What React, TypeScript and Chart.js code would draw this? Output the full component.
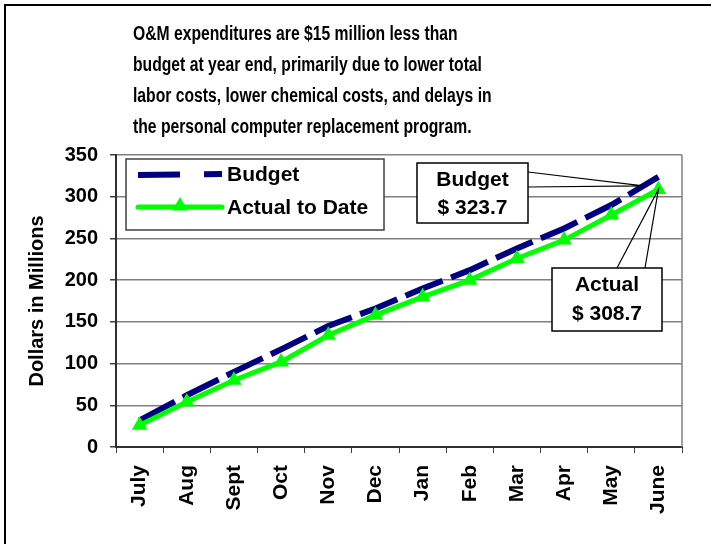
import React, { useEffect, useRef } from "react";
import { Chart, registerables } from "chart.js";

Chart.register(...registerables);

const months = ["July", "Aug", "Sept", "Oct", "Nov", "Dec", "Jan", "Feb", "Mar", "Apr", "May", "June"];
const budget = [32, 62, 90, 117, 145, 166, 190, 212, 238, 262, 290, 323.7];
const actual = [26, 54, 80, 102, 134, 158, 180, 200, 226, 248, 278, 308.7];
const yMin = 0;
const yMax = 350;
const yStep = 50;
const titleLines = [
  "O&M expenditures are $15 million less than",
  "budget at year end, primarily due to lower total",
  "labor costs, lower chemical costs, and delays in",
  "the personal computer replacement program.",
];
const yAxisTitle = "Dollars in Millions";
const legendLabels = ["Budget", "Actual to Date"];
const budgetCallout = ["Budget", "$ 323.7"];
const actualCallout = ["Actual", "$ 308.7"];

const FONT = "'Liberation Sans', Arial, Helvetica, sans-serif";
const NAVY = "#000080";
const GREEN = "#00FF00";

function drawTriangle(ctx: CanvasRenderingContext2D, x: number, y: number, r: number) {
  ctx.beginPath();
  ctx.moveTo(x, y - r);
  ctx.lineTo(x + r * 0.866, y + r * 0.5);
  ctx.lineTo(x - r * 0.866, y + r * 0.5);
  ctx.closePath();
  ctx.fillStyle = GREEN;
  ctx.fill();
}

const decor = {
  id: "decor",
  beforeDraw(chart: any) {
    const { ctx, width, height } = chart;
    ctx.save();
    ctx.fillStyle = "#ffffff";
    ctx.fillRect(0, 0, width, height);
    ctx.restore();
  },
  beforeDatasetsDraw(chart: any) {
    const { ctx, chartArea } = chart;
    ctx.save();
    ctx.strokeStyle = "#808080";
    ctx.lineWidth = 1.5;
    ctx.beginPath();
    ctx.moveTo(chartArea.right, chartArea.top);
    ctx.lineTo(chartArea.right, chartArea.bottom);
    ctx.stroke();
    ctx.restore();
  },
  afterDraw(chart: any) {
    const { ctx, chartArea } = chart;
    const ca = chartArea;
    ctx.save();
    // outer frame
    ctx.strokeStyle = "#000";
    ctx.lineWidth = 2;
    ctx.strokeRect(5, 5, 760, 600);

    // title
    ctx.fillStyle = "#000";
    ctx.font = `bold 20px ${FONT}`;
    ctx.textBaseline = "middle";
    ctx.textAlign = "left";
    titleLines.forEach((line, i) => {
      ctx.save();
      ctx.translate(133, 34 + i * 31);
      ctx.scale(0.785, 1);
      ctx.fillText(line, 0, 0);
      ctx.restore();
    });

    // legend
    const lx = ca.left + 10;
    const ly = ca.top + 4;
    const lw = 258;
    const lh = 71;
    ctx.fillStyle = "#fff";
    ctx.fillRect(lx, ly, lw, lh);
    ctx.strokeStyle = "#404040";
    ctx.lineWidth = 1.5;
    ctx.strokeRect(lx, ly, lw, lh);
    // budget sample
    ctx.strokeStyle = NAVY;
    ctx.lineWidth = 6;
    ctx.setLineDash([42, 24]);
    ctx.beginPath();
    ctx.moveTo(lx + 12, ly + 16);
    ctx.lineTo(lx + 96, ly + 15);
    ctx.stroke();
    ctx.setLineDash([]);
    // actual sample
    ctx.strokeStyle = GREEN;
    ctx.lineWidth = 5;
    ctx.lineCap = "round";
    ctx.beginPath();
    ctx.moveTo(lx + 12, ly + 48);
    ctx.lineTo(lx + 96, ly + 48);
    ctx.stroke();
    ctx.lineCap = "butt";
    drawTriangle(ctx, lx + 54, ly + 47, 9);
    ctx.fillStyle = "#000";
    ctx.font = `bold 21px ${FONT}`;
    ctx.textAlign = "left";
    ctx.fillText(legendLabels[0], lx + 101, ly + 16);
    ctx.fillText(legendLabels[1], lx + 101, ly + 49);

    // callouts
    const bMeta = chart.getDatasetMeta(0);
    const aMeta = chart.getDatasetMeta(1);
    const n = budget.length;
    const bp1 = bMeta.data[n - 2];
    const bp2 = bMeta.data[n - 1];
    const bt = { x: bp1.x + (bp2.x - bp1.x) * 0.68, y: bp1.y + (bp2.y - bp1.y) * 0.68 };
    const ap = aMeta.data[n - 1];

    ctx.strokeStyle = "#000";
    ctx.lineWidth = 1.2;
    // budget box
    const bx = 417, by = 163, bw = 111, bh = 60;
    ctx.beginPath();
    ctx.moveTo(bx + bw, by + 9);
    ctx.lineTo(bt.x, bt.y);
    ctx.lineTo(bx + bw, by + 24);
    ctx.stroke();
    ctx.fillStyle = "#fff";
    ctx.fillRect(bx, by, bw, bh);
    ctx.lineWidth = 1.5;
    ctx.strokeRect(bx, by, bw, bh);
    // actual box
    const axb = 552, ayb = 268, aw = 110, ah = 63;
    ctx.lineWidth = 1.2;
    ctx.beginPath();
    ctx.moveTo(axb + 65, ayb);
    ctx.lineTo(ap.x, ap.y);
    ctx.lineTo(axb + 93, ayb);
    ctx.stroke();
    ctx.fillStyle = "#fff";
    ctx.fillRect(axb, ayb, aw, ah);
    ctx.lineWidth = 1.5;
    ctx.strokeRect(axb, ayb, aw, ah);

    ctx.fillStyle = "#000";
    ctx.font = `bold 21px ${FONT}`;
    ctx.textAlign = "center";
    ctx.textBaseline = "middle";
    ctx.fillText(budgetCallout[0], bx + bw / 2, by + 17);
    ctx.fillText(budgetCallout[1], bx + bw / 2, by + 45);
    ctx.fillText(actualCallout[0], axb + aw / 2, ayb + 17);
    ctx.fillText(actualCallout[1], axb + aw / 2, ayb + 46);
    ctx.restore();
  },
};

export default function App() {
  const ref = useRef<HTMLCanvasElement | null>(null);

  useEffect(() => {
    if (!ref.current) return;
    const chart = new Chart(ref.current, {
      type: "line",
      data: {
        labels: months,
        datasets: [
          {
            label: legendLabels[0],
            data: budget,
            borderColor: NAVY,
            backgroundColor: NAVY,
            borderWidth: 6,
            borderDash: [40, 9],
            pointRadius: 0,
            tension: 0,
            order: 1,
          },
          {
            label: legendLabels[1],
            data: actual,
            borderColor: GREEN,
            backgroundColor: GREEN,
            borderWidth: 5,
            pointStyle: "triangle",
            pointRadius: 9,
            pointBorderWidth: 0,
            pointBackgroundColor: GREEN,
            pointBorderColor: GREEN,
            tension: 0,
            order: 0,
          },
        ],
      },
      options: {
        animation: false,
        responsive: false,
        maintainAspectRatio: false,
        layout: { padding: { left: 0, top: 155, right: 29, bottom: 0 } },
        plugins: {
          legend: { display: false },
          title: { display: false },
          tooltip: { enabled: false },
        },
        scales: {
          x: {
            type: "category",
            offset: true,
            grid: {
              offset: true,
              drawOnChartArea: false,
              drawTicks: true,
              tickLength: 6,
              tickColor: "#404040",
            },
            border: { color: "#303030", width: 2 },
            ticks: {
              color: "#000",
              font: { family: FONT, size: 21, weight: "bold" },
              minRotation: 90,
              maxRotation: 90,
              padding: 12,
              autoSkip: false,
            },
            afterFit: (s: any) => {
              s.height = 97;
            },
          },
          y: {
            min: yMin,
            max: yMax,
            ticks: {
              stepSize: yStep,
              color: "#000",
              font: { family: FONT, size: 20, weight: "bold" },
              padding: 12,
            },
            grid: {
              color: "#808080",
              lineWidth: 1.5,
              tickLength: 6,
              tickColor: "#404040",
            },
            border: { color: "#303030", width: 2 },
            title: {
              display: true,
              text: yAxisTitle,
              color: "#000",
              font: { family: FONT, size: 20, weight: "bold" },
              padding: { top: 25, bottom: 0 },
            },
            afterFit: (s: any) => {
              s.width = 116;
            },
          },
        },
      },
      plugins: [decor],
    });
    return () => chart.destroy();
  }, []);

  return (
    <div style={{ position: "fixed", left: 0, top: 0, width: 711, height: 544, background: "#fff" }}>
      <canvas ref={ref} width={711} height={544} style={{ display: "block", width: 711, height: 544 }} />
    </div>
  );
}
